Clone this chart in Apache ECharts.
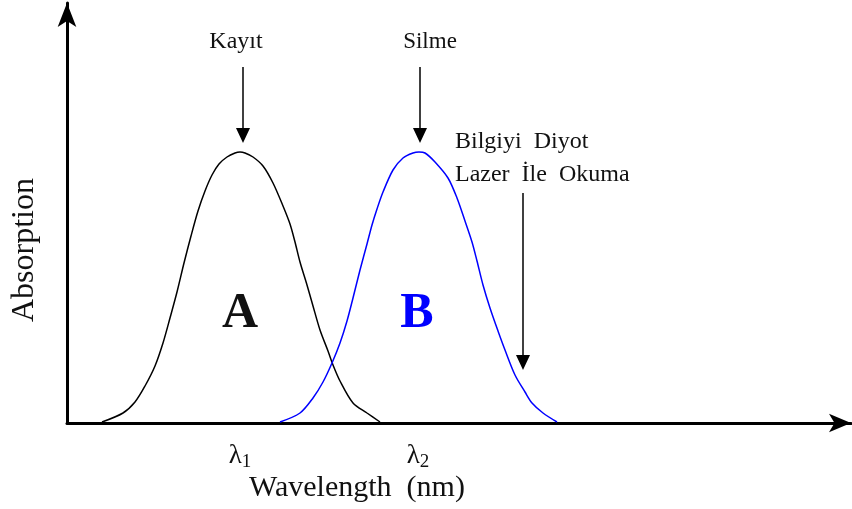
<!DOCTYPE html>
<html>
<head>
<meta charset="utf-8">
<script src="https://cdn.jsdelivr.net/npm/echarts@6/dist/echarts.min.js"></script>
<style>
  html, body { margin: 0; padding: 0; background: #fff; }
  #chart { width: 852px; height: 509px; }
</style>
</head>
<body>
<div id="chart"></div>
<script>
// curve A (black), arbitrary units
var aX = [35, 56, 68, 78, 88, 96, 103, 110, 117, 124, 131, 138, 145, 152, 160, 168, 173, 178, 186, 196, 206, 216, 223, 228, 233, 240, 246, 253, 261, 266, 273, 286, 300, 313];
var aY = [1, 10, 21, 37, 57, 80, 105, 131, 160, 187, 212, 232, 248, 259, 266, 270, 271, 270, 266, 257, 240, 217, 199, 181, 161, 138, 117, 93, 72, 58, 42, 20, 10, 1];
// curve B (blue)
var bX = [213, 233, 246, 256, 265, 273, 280, 286, 293, 300, 305, 310, 316, 326, 336, 346, 352, 358, 368, 381, 390, 398, 405, 410, 416, 423, 431, 438, 448, 458, 465, 476, 490];
var bY = [1, 10, 25, 41, 60, 80, 102, 125, 153, 179, 198, 214, 231, 253, 265, 270, 271, 270, 261, 245, 225, 202, 181, 162, 138, 115, 92, 73, 48, 31, 20, 10, 1];
// tick positions on the wavelength axis
var lambdaPos = [173, 351];
var lambdaSub = ['1', '2'];

var serif = "'Liberation Serif', 'Times New Roman', serif";

function pairs(xs, ys) {
  return xs.map(function (x, i) { return [x, ys[i]]; });
}

// arrow pointing down: shaft + filled head
function downArrow(x, y1, y2) {
  return {
    type: 'group',
    children: [
      { type: 'line', shape: { x1: x, y1: y1, x2: x, y2: y2 - 12 }, style: { stroke: '#000', lineWidth: 1.5 } },
      { type: 'polygon', shape: { points: [[x - 7, y2 - 15], [x + 7, y2 - 15], [x, y2]] }, style: { fill: '#000' } }
    ]
  };
}

function label(text, x, y, size, opts) {
  var o = opts || {};
  return {
    type: 'text', x: x, y: y, rotation: o.rotation || 0,
    style: {
      text: text, fill: o.color || '#111', font: (o.bold ? 'bold ' : '') + size + 'px ' + serif,
      align: o.align || 'center', verticalAlign: 'middle'
    }
  };
}

var myChart = echarts.init(document.getElementById('chart'));
var option = {
  animation: false,
  grid: { left: 67, right: 1, top: 3, bottom: 86 },
  xAxis: {
    type: 'value', min: 0, max: 784,
    splitLine: { show: false },
    axisTick: { show: false },
    axisLine: { lineStyle: { color: '#000', width: 3 }, symbol: ['none', 'arrow'], symbolSize: [14, 22] },
    axisLabel: {
      customValues: lambdaPos,
      margin: 19,
      formatter: function (v) {
        var i = lambdaPos.indexOf(v);
        return '{l|λ}{s|' + lambdaSub[i] + '}';
      },
      rich: {
        l: { fontFamily: serif, fontSize: 27, color: '#111', lineHeight: 30, verticalAlign: 'top' },
        s: { fontFamily: serif, fontSize: 19, color: '#111', lineHeight: 30, verticalAlign: 'bottom', padding: [10, 0, 0, 0] }
      }
    }
  },
  yAxis: {
    type: 'value', min: 0, max: 420,
    splitLine: { show: false },
    axisTick: { show: false },
    axisLabel: { show: false },
    axisLine: { lineStyle: { color: '#000', width: 3 }, symbol: ['none', 'arrow'], symbolSize: [14, 24] }
  },
  series: [
    { type: 'line', data: pairs(aX, aY), showSymbol: false, smooth: 0.3, lineStyle: { color: '#000', width: 1.5 } },
    { type: 'line', data: pairs(bX, bY), showSymbol: false, smooth: 0.3, lineStyle: { color: '#0000ff', width: 1.5 } }
  ],
  graphic: [
    label('Kayıt', 236, 42, 24),
    label('Silme', 430, 42, 23),
    label('Bilgiyi  Diyot', 455, 142, 24, { align: 'left' }),
    label('Lazer  İle  Okuma', 455, 175, 24, { align: 'left' }),
    downArrow(243, 67, 143),
    downArrow(420, 67, 143),
    downArrow(523, 193, 370),
    label('A', 240, 314, 50, { bold: true }),
    label('B', 417, 314, 50, { bold: true, color: '#0000ff' }),
    label('Wavelength  (nm)', 357, 488, 30),
    label('Absorption', 25, 250, 32, { rotation: Math.PI / 2 })
  ]
};
myChart.setOption(option);
</script>
</body>
</html>
